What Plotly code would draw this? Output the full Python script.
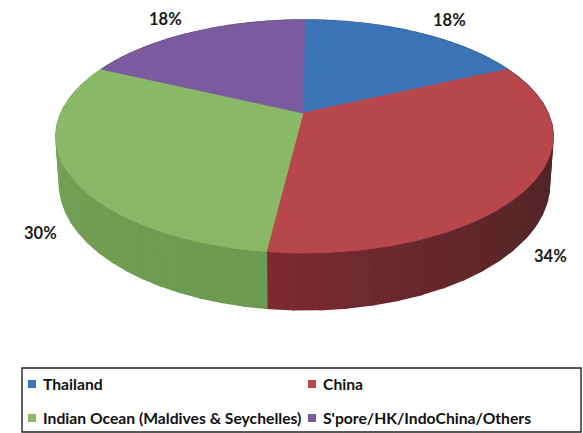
import numpy as np
import plotly.graph_objects as go

# Share of trips by destination (percent), clockwise from twelve o'clock
destinations = ["Thailand", "China", "Indian Ocean (Maldives & Seychelles)", "S'pore/HK/IndoChina/Others"]
shares = [18, 34, 30, 18]
top_colors = ["#3a73b6", "#b8474c", "#89b966", "#7a5b9e"]
wall_light = ["#2f5c92", "#7c2a30", "#7dab5e", "#5f477c"]
wall_dark = ["#2f5c92", "#4c2427", "#6f9a52", "#5f477c"]

# Perspective disc: screen geometry in pixels
APEX_X, APEX_Y = 303.0, 113.0
RIM_X = 304.5
TILT = 0.2017
VSCALE = 88.97
R_TOP, R_BOTTOM = 243.5, 240.0
DEPTH = 45.4


def disc_point(theta, radius, drop):
    """Project an angle on the disc (clockwise from the top) to the page."""
    u, v = np.sin(theta), np.cos(theta)
    w = 1 + TILT * v
    return RIM_X + radius * u / w, (APEX_Y + drop - VSCALE * v) / w


def mix(c1, c2, t):
    a = [int(c1[i:i + 2], 16) for i in (1, 3, 5)]
    b = [int(c2[i:i + 2], 16) for i in (1, 3, 5)]
    return "rgb(%d,%d,%d)" % tuple(round(p + (q - p) * t) for p, q in zip(a, b))


fig = go.Figure()
edges = np.cumsum([0] + shares) / sum(shares) * 2 * np.pi

# Side walls go underneath, shaded in narrow bands along each slice
for i in range(len(shares)):
    bands = np.linspace(edges[i], edges[i + 1], 25)
    for j in range(len(bands) - 1):
        arc = np.linspace(bands[j], bands[j + 1], 5)
        x0, y0 = disc_point(arc, R_TOP, 0)
        x1, y1 = disc_point(arc[::-1], R_BOTTOM, DEPTH)
        shade = mix(wall_dark[i], wall_light[i], (j / (len(bands) - 2)) ** 2)
        fig.add_trace(go.Scatter(
            x=np.r_[x0, x1, x0[0]], y=np.r_[y0, y1, y0[0]], mode="lines", fill="toself",
            fillcolor=shade, line=dict(color=shade, width=1.5),
            hoverinfo="skip", showlegend=False))

# Top faces of the slices
for i, name in enumerate(destinations):
    arc = np.linspace(edges[i], edges[i + 1], 120)
    x, y = disc_point(arc, R_TOP, 0)
    fig.add_trace(go.Scatter(
        x=np.r_[APEX_X, x, APEX_X], y=np.r_[APEX_Y, y, APEX_Y], mode="lines", fill="toself",
        fillcolor=top_colors[i], line=dict(color=top_colors[i], width=0.8),
        name=name, showlegend=False))

label_font = dict(family="Lato, Noto Sans, sans-serif", size=16.5, color="#1a1a1a")
legend_font = dict(family="Lato, Noto Sans, sans-serif", size=15.7, color="#111111")

# Percentage labels outside the disc
label_pos = [(449, 20), (550, 256), (40, 233), (165, 19)]
for share, (lx, ly) in zip(shares, label_pos):
    fig.add_annotation(x=lx, y=ly, text=f"<b>{share}%</b>", showarrow=False, font=label_font)

# Legend box with two columns
shapes = [dict(type="rect", x0=22, x1=581, y0=368, y1=432,
               line=dict(color="#222222", width=1.4), fillcolor="rgba(0,0,0,0)")]
legend_pos = [(32, 384), (312, 384), (32, 418), (312, 418)]
for name, color, (lx, ly) in zip(destinations, top_colors, legend_pos):
    shapes.append(dict(type="rect", x0=lx - 4, x1=lx + 4, y0=ly - 4, y1=ly + 4,
                       fillcolor=color, line=dict(width=0)))
    fig.add_annotation(x=lx + 11, y=ly, text=f"<b>{name}</b>", showarrow=False, xanchor="left",
                       xshift=-2, font=legend_font)

fig.update_layout(
    width=583, height=433, autosize=False,
    margin=dict(l=0, r=0, t=0, b=0, pad=0),
    paper_bgcolor="white", plot_bgcolor="white", showlegend=False,
    xaxis=dict(range=[0, 583], visible=False, fixedrange=True),
    yaxis=dict(range=[433, 0], visible=False, fixedrange=True),
    shapes=shapes,
)
fig.write_html("out.html", config=dict(displayModeBar=False))
